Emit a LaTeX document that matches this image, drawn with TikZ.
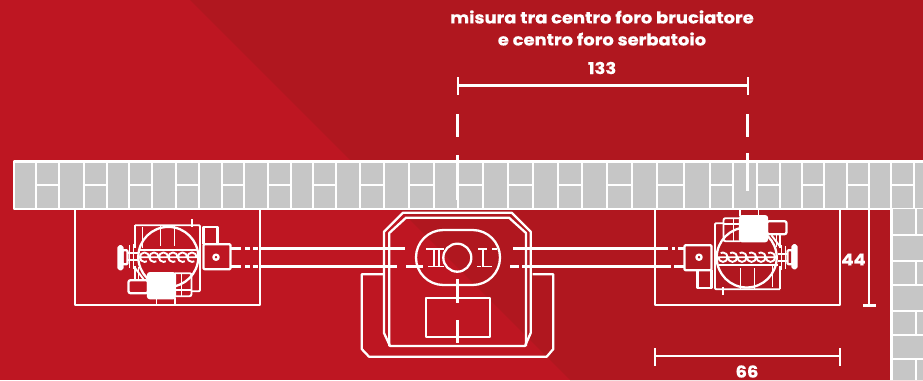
\documentclass[tikz,border=0pt]{standalone}
\usepackage{fontspec}
\setmainfont{Poppins}[BoldFeatures={FakeStretch=1.1,FakeBold=0.4}]
\definecolor{redL}{HTML}{BE1622}
\definecolor{redD}{HTML}{B0171F}
\definecolor{brick}{HTML}{C6C6C6}
\tikzset{
  ln/.style={draw=white,line width=2.3pt,line join=round},
  thin ln/.style={draw=white,line width=1.9pt,line join=round},
  lbl/.style={text=white,font=\bfseries,inner sep=0pt,align=center},
  burner/.pic={
    % frame
    \draw[thin ln,rounded corners=1pt] (-32.5,-32) -- (32.5,-32) -- (32.5,34) -- (24,34);
    \draw[thin ln] (-32.5,-32) -- (-32.5,-9);
    \draw[thin ln] (-32.5,9) -- (-32.5,23);
    \draw[thin ln] (24.2,-38) -- (24.2,-30);
    \draw[thin ln] (-25,-30) -- (-25,-9);
    \draw[thin ln] (-7,-32) -- (-7,-11);
    \draw[thin ln] (7,-32) -- (7,-11);
    % body circle
    \draw[ln] (0.8,-0.3) circle[radius=30];
    % right boxes
    \draw[ln,rounded corners=1pt] (36,-13) rectangle (63,12);
    \draw[ln] (36,-13) -- (36,-30.5) -- (50,-30.5) -- (50,-13);
    \draw[ln] (48.5,0) circle[radius=2.6];
    % coil
    \foreach \c in {-23,-13.5,-4,5.5,15,24.5}{
      \draw[thin ln] (\c-3.5,0) -- (\c+4.7,0) arc[start angle=0,end angle=-300,radius=4.7];
    }
    \draw[thin ln] (-30,-7.5) -- (29,-7.5);
    % hand wheel and stem
    \draw[ln,fill=white,rounded corners=1.5pt] (-49,-11) rectangle (-45,12);
    \draw[ln,rounded corners=1pt] (-45,-7) rectangle (-40,7);
    \draw[thin ln] (-38,-12) -- (-38,11);
    \draw[thin ln] (-34,-13) -- (-34,12);
    \draw[thin ln] (-40,-4) -- (-30,-4) (-40,3) -- (-30,3);
    \draw[thin ln] (-33,10) -- (-24,22);
    % motor
    \draw[ln,fill=white,rounded corners=2pt] (-19.5,16) rectangle (7.5,41);
    \draw[ln,rounded corners=2pt] (-39,23) rectangle (-19.5,36);
    \draw[thin ln] (-33,10) -- (-33,23) (-29,10) -- (-29,23);
    \draw[thin ln,rounded corners=2pt] (7.5,16) -- (24,16) -- (24,39) -- (7.5,39);
    \draw[thin ln] (14,16) -- (14,39);
    \draw[thin ln] (7.5,33) -- (24,33);
    \draw[thin ln] (-11,41) -- (-11,48);
    \draw[thin ln] (7.5,41) -- (7.5,48);
  }
}
\begin{document}
\begin{tikzpicture}[x=1pt,y=-1pt]
\clip (0,0) rectangle (923,380);
% background
\fill[redL] (0,0) rectangle (923,380);
\fill[redD] (190,0) -- (923,0) -- (923,380) -- (570,380) -- cycle;
% horizontal wall
\fill[brick] (14,161.5) rectangle (923,209);
\draw[ln] (923,161.5) -- (14,161.5) -- (14,209) -- (923,209);
\foreach \x in {36.3,59.3,84.3,106.7,129,151.7,176,199,221.7,244,268.3,291,313,336,360,384.3,409.3,434.3,458,483.3,508.3,533.3,557.7,581.7,606.7,631.7,657.3,684,710,733,757,780,801.7,824,846.7,869,890.7,914}
  \draw[ln] (\x,161.5) -- (\x,209);
\foreach \a/\b in {36.3/59.3,84.3/106.7,129/151.7,176/199,221.7/244,268.3/291,313/336,360/384.3,409.3/434.3,458/483.3,508.3/533.3,557.7/581.7,606.7/631.7,657.3/684,710/733,757/780,801.7/824,846.7/869,890.7/914}
  \draw[ln] (\a,185) -- (\b,185);
% side wall
\fill[brick] (891.5,209) rectangle (923,380);
\draw[ln] (891.5,209) -- (891.5,380);
\foreach \y in {235,261,285,310.7,335,359.3}
  \draw[ln] (891.5,\y) -- (923,\y);
\foreach \a/\b in {209/235,261/285,310.7/335,359.3/380}
  \draw[ln] (916,\a) -- (916,\b);
% niches
\draw[ln] (75,209) -- (75,305) -- (260,305) -- (260,209);
\draw[ln] (655,209) -- (655,305) -- (840,305) -- (840,209);
% pipes
\draw[ln] (231,248.5) -- (241,248.5) (245,248.5) -- (250,248.5) (253,248.5) -- (258,248.5);
\draw[ln] (231,266.5) -- (241,266.5) (245,266.5) -- (250,266.5) (253,266.5) -- (258,266.5);
\draw[ln] (261,248.5) -- (405,248.5) (261,266.5) -- (397,266.5);
\draw[ln] (406,266.5) -- (423,266.5);
\draw[ln] (513,248.5) -- (655,248.5) (522,266.5) -- (655,266.5);
\draw[ln] (510,266.5) -- (519,266.5);
\draw[ln] (656,248.5) -- (668,248.5) (672,248.5) -- (675,248.5) (678,248.5) -- (684,248.5);
\draw[ln] (656,266.5) -- (671,266.5) (674,266.5) -- (684,266.5);
% tank
\draw[ln] (403,212.7) -- (511.7,212.7) -- (530.7,231.7) -- (530.7,333) -- (525,346) -- (390,346) -- (384,333) -- (384,231.7) -- cycle;
\draw[ln] (389.3,346) -- (389.3,233) -- (406,217.7) -- (509,217.7) -- (526,233) -- (526,346);
\draw[ln] (384,274.3) -- (361.7,274.3) -- (361.7,349) -- (369,356.7) -- (546.7,356.7) -- (553.3,349) -- (553.3,274.3) -- (532.7,274.3);
\draw[ln,rounded corners=27.4pt] (416,230) rectangle (500,285);
\draw[ln] (457.3,257.7) circle[radius=14];
\draw[thin ln] (426,249) -- (444,249) (428,266.5) -- (444,266.5) (434,249) -- (434,266.5) (439,249) -- (439,266.5);
\draw[thin ln] (478,249) -- (487,249) (483,249) -- (483,266.5) (477,266.5) -- (481,266.5) (484,266.5) -- (492,266.5) (492,249) -- (497,249);
\draw[ln] (426,297.7) rectangle (490,337.3);
\draw[ln] (457.5,279) -- (457.5,303) (457.5,320) -- (457.5,343);
% burners
\pic at (167.5,257.2) {burner};
\pic[rotate=180] at (747.5,257.2) {burner};
% dimension 133
\draw[ln] (457.7,85.5) -- (747.7,85.5);
\draw[ln] (457.7,77) -- (457.7,95);
\draw[ln] (747.7,77) -- (747.7,95);
\draw[ln] (457.5,114) -- (457.5,137) (457.5,155) -- (457.5,200);
\draw[ln] (747.5,114) -- (747.5,137) (747.5,153) -- (747.5,191);
% dimension 66
\draw[ln] (655,355.7) -- (840,355.7);
\draw[ln] (655,348) -- (655,365.7);
\draw[ln] (840,348) -- (840,365.7);
% dimension 44
\draw[ln] (869.3,207) -- (869.3,305.6);
\draw[ln] (863,305.6) -- (876,305.6);
% labels
\node[lbl,font=\bfseries\fontsize{16.3}{22}\selectfont] (title) at (602,28) {misura tra centro foro bruciatore\\e centro foro serbatoio};
\node[lbl,font=\bfseries\fontsize{16.3}{18}\selectfont] (d133) at (602,68) {133};
\node[lbl,font=\bfseries\fontsize{16.3}{18}\selectfont] (d44) at (853.5,259.5) {44};
\node[lbl,font=\bfseries\fontsize{16.3}{18}\selectfont] (d66) at (747,371.5) {66};
\end{tikzpicture}
\end{document}
